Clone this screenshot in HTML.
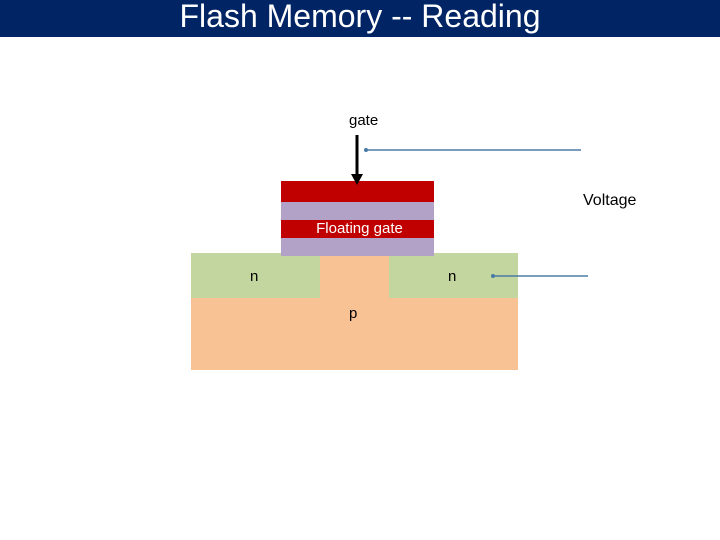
<!DOCTYPE html>
<html><head><style>
body{margin:0;width:720px;height:540px;background:#fff;position:relative;overflow:hidden;font-family:"Liberation Sans",sans-serif}
div{position:absolute}
.t{font-size:15px;color:#000}
</style></head><body>
<div style="left:0;top:0;width:720px;height:37px;background:#002464"></div>
<div style="left:0;top:0;width:720px;height:37px;line-height:37px;text-align:center;color:#fff;font-size:32px;margin-top:-2px">Flash Memory -- Reading</div>
<div style="left:191px;top:253px;width:327px;height:117px;background:#f9c294"></div>
<div style="left:191px;top:253px;width:129px;height:45px;background:#c4d69f"></div>
<div style="left:389px;top:253px;width:129px;height:45px;background:#c4d69f"></div>
<div style="left:281px;top:181px;width:153px;height:21px;background:#c00000"></div>
<div style="left:281px;top:202px;width:153px;height:18px;background:#b3a2c7"></div>
<div style="left:281px;top:220px;width:153px;height:18px;background:#c00000"></div>
<div style="left:281px;top:238px;width:153px;height:18px;background:#b3a2c7"></div>
<div class="t" style="left:283px;top:219px;width:153px;text-align:center;color:#fff;line-height:20px">Floating gate</div>
<div class="t" style="left:250px;top:268px">n</div>
<div class="t" style="left:448px;top:268px">n</div>
<div class="t" style="left:349px;top:305px">p</div>
<div class="t" style="left:349px;top:112px">gate</div>
<div class="t" style="left:583px;top:192px;font-size:16px">Voltage</div>
<svg style="position:absolute;left:0;top:0" width="720" height="540">
<line x1="357" y1="135" x2="357" y2="176" stroke="#000" stroke-width="3"/>
<polygon points="351,174 363,174 357,185" fill="#000"/>
<line x1="366" y1="150" x2="581" y2="150" stroke="#4a7ba6" stroke-width="1.5"/>
<circle cx="366" cy="150" r="2" fill="#4a7ba6"/>
<line x1="493" y1="276" x2="588" y2="276" stroke="#4a7ba6" stroke-width="1.5"/>
<circle cx="493" cy="276" r="2" fill="#4a7ba6"/>
</svg>
</body></html>
